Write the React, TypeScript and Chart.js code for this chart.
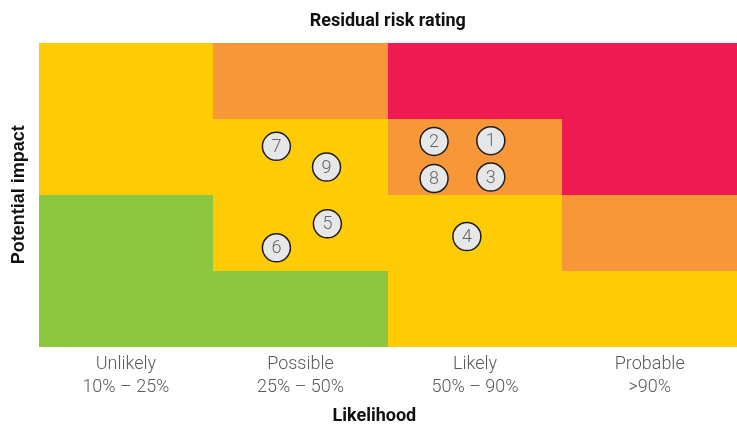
import React, { useEffect, useRef } from "react";
import { Chart, registerables } from "chart.js";

Chart.register(...registerables);

// ---- Data ----
const chartTitle = "Residual risk rating";
const xAxisTitle = "Likelihood";
const yAxisTitle = "Potential impact";

const likelihoodLabels: string[][] = [
  ["Unlikely", "10% – 25%"],
  ["Possible", "25% – 50%"],
  ["Likely", "50% – 90%"],
  ["Probable", ">90%"],
];
const likelihoodTickValues = [0.5, 1.5, 2.5, 3.5];

// Heat-map cells: rows from lowest impact (bottom) to highest (top), columns by likelihood
const GREEN = "#8DC63F";
const YELLOW = "#FFCB05";
const ORANGE = "#F79737";
const RED = "#EE1A52";
const cellRow0 = [GREEN, GREEN, YELLOW, YELLOW];
const cellRow1 = [GREEN, YELLOW, YELLOW, ORANGE];
const cellRow2 = [YELLOW, YELLOW, ORANGE, RED];
const cellRow3 = [YELLOW, ORANGE, RED, RED];
const cellRows = [cellRow0, cellRow1, cellRow2, cellRow3];

// Risks
const riskIds = ["1", "2", "3", "4", "5", "6", "7", "8", "9"];
const riskLikelihood = [2.59, 2.265, 2.59, 2.453, 1.654, 1.362, 1.362, 2.265, 1.649];
const riskImpact = [2.711, 2.701, 2.233, 1.451, 1.618, 1.303, 2.636, 2.214, 2.364];

const heatmapPlugin = {
  id: "heatmapCells",
  beforeDatasetsDraw(chart: any) {
    const { ctx, scales } = chart;
    const xs = scales.x;
    const ys = scales.y;
    ctx.save();
    cellRows.forEach((row, r) => {
      row.forEach((color, c) => {
        const x0 = Math.round(xs.getPixelForValue(c));
        const x1 = Math.round(xs.getPixelForValue(c + 1));
        const y0 = Math.round(ys.getPixelForValue(r + 1));
        const y1 = Math.round(ys.getPixelForValue(r));
        ctx.fillStyle = color;
        ctx.fillRect(x0, y0, x1 - x0, y1 - y0);
      });
    });
    ctx.restore();
  },
};

const pointLabelPlugin = {
  id: "pointLabels",
  afterDatasetsDraw(chart: any) {
    const { ctx } = chart;
    const meta = chart.getDatasetMeta(0);
    ctx.save();
    ctx.font = "300 18px Roboto";
    ctx.fillStyle = "#666666";
    ctx.textAlign = "center";
    ctx.textBaseline = "middle";
    meta.data.forEach((el: any, i: number) => {
      ctx.fillText(riskIds[i], el.x, el.y + 1);
    });
    ctx.restore();
  },
};

export default function App() {
  const canvasRef = useRef<HTMLCanvasElement | null>(null);

  useEffect(() => {
    document.body.style.margin = "0";
    const canvas = canvasRef.current;
    if (!canvas) return;
    const chart = new Chart(canvas, {
      type: "scatter",
      data: {
        datasets: [
          {
            label: "Risks",
            data: riskIds.map((_, i) => ({ x: riskLikelihood[i], y: riskImpact[i] })),
            pointRadius: 14,
            pointHoverRadius: 14,
            backgroundColor: "#E6E7E8",
            borderColor: "#1E1E1E",
            borderWidth: 1.5,
          },
        ],
      },
      options: {
        animation: false,
        responsive: false,
        devicePixelRatio: 1,
        layout: { autoPadding: false, padding: { left: 0, right: 0, top: 0, bottom: 0 } },
        plugins: {
          legend: { display: false },
          tooltip: { enabled: false },
          title: {
            display: true,
            text: chartTitle,
            fullSize: false,
            color: "#111111",
            font: { family: "Roboto", size: 18, weight: "bold" },
            padding: { top: 11, bottom: 10 },
          },
        },
        scales: {
          x: {
            type: "linear",
            min: 0,
            max: 4,
            grid: { display: false, drawTicks: false },
            border: { display: false },
            afterBuildTicks: (axis: any) => {
              axis.ticks = likelihoodTickValues.map((v) => ({ value: v }));
            },
            afterFit: (axis: any) => {
              axis.paddingLeft = 0;
              axis.paddingRight = 0;
            },
            ticks: {
              autoSkip: false,
              maxRotation: 0,
              padding: 6,
              color: "#5a5a5a",
              font: { family: "Roboto", size: 18, weight: "300", lineHeight: 1.28 },
              callback: (_v: any, i: number) => likelihoodLabels[i],
            },
            title: {
              display: true,
              // trailing spaces nudge the centred title slightly left, as in the reference
              text: xAxisTitle + "      ",
              color: "#111111",
              font: { family: "Roboto", size: 18, weight: "bold", lineHeight: 1 },
              padding: { top: 2, bottom: 0 },
            },
          },
          y: {
            type: "linear",
            min: 0,
            max: 4,
            grid: { display: false, drawTicks: false },
            border: { display: false },
            ticks: { display: false },
            title: {
              display: true,
              text: yAxisTitle,
              color: "#111111",
              font: { family: "Liberation Sans", size: 18, weight: "bold" },
              padding: { top: 8, bottom: 9 },
            },
          },
        },
      },
      plugins: [heatmapPlugin, pointLabelPlugin],
    } as any);
    return () => chart.destroy();
  }, []);

  return (
    <div style={{ position: "absolute", left: 0, top: 0, width: 737, height: 425 }}>
      <canvas ref={canvasRef} width={737} height={425} style={{ width: 737, height: 425 }} />
    </div>
  );
}
